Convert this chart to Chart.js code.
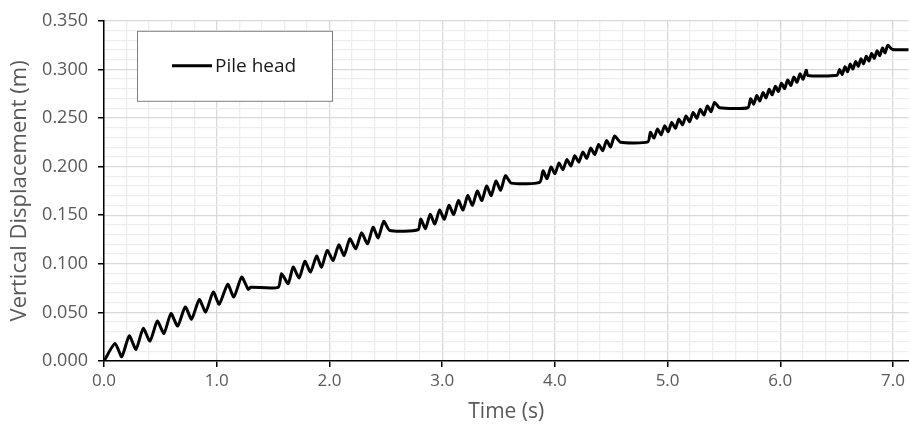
<!DOCTYPE html>
<html>
<head>
<meta charset="utf-8">
<script src="https://cdn.jsdelivr.net/npm/chart.js@4.4.1/dist/chart.umd.min.js"></script>
<style>
  html, body { margin: 0; padding: 0; background: #fff; overflow: hidden; }
  #wrap { width: 909px; height: 429px; position: relative; }
</style>
</head>
<body>
<div id="wrap"><canvas id="chart"></canvas></div>
<script>
// pile head settlement, one array pair per loading stage (time in s, displacement in m)
const stage1Time = [0, 0.098, 0.157, 0.224, 0.284, 0.348, 0.408, 0.473, 0.532, 0.594, 0.653, 0.721, 0.777, 0.845, 0.902, 0.969, 1.022, 1.097, 1.152, 1.221, 1.279, 1.300, 1.545]
const stage1Disp = [0, 0.0181, 0.0044, 0.0259, 0.0120, 0.0335, 0.0205, 0.0410, 0.0284, 0.0489, 0.0359, 0.0556, 0.0430, 0.0632, 0.0505, 0.0710, 0.0584, 0.0789, 0.0659, 0.0864, 0.0738, 0.0758, 0.0758]

const stage2Time = [1.575, 1.634, 1.678, 1.731, 1.782, 1.832, 1.886, 1.930, 1.980, 2.033, 2.083, 2.130, 2.181, 2.234, 2.285, 2.338, 2.387, 2.432, 2.482, 2.535, 2.786]
const stage2Disp = [0.0898, 0.0796, 0.0966, 0.0854, 0.1025, 0.0915, 0.1079, 0.0966, 0.1137, 0.1035, 0.1196, 0.1086, 0.1257, 0.1155, 0.1319, 0.1206, 0.1376, 0.1267, 0.1437, 0.1342, 0.1350]

const stage3Time = [2.810, 2.852, 2.894, 2.935, 2.977, 3.019, 3.060, 3.102, 3.144, 3.185, 3.227, 3.269, 3.311, 3.352, 3.394, 3.435, 3.477, 3.519, 3.561, 3.614, 3.865]
const stage3Disp = [0.1460, 0.1362, 0.1508, 0.1410, 0.1553, 0.1458, 0.1602, 0.1507, 0.1650, 0.1553, 0.1701, 0.1602, 0.1748, 0.1651, 0.1800, 0.1702, 0.1851, 0.1758, 0.1906, 0.1830, 0.1837]

const stage4Time = [3.895, 3.930, 3.966, 4.001, 4.036, 4.071, 4.107, 4.142, 4.177, 4.212, 4.248, 4.283, 4.318, 4.353, 4.389, 4.424, 4.459, 4.494, 4.530, 4.583, 4.825]
const stage4Disp = [0.1957, 0.1875, 0.1995, 0.1928, 0.2036, 0.1968, 0.2073, 0.2007, 0.2112, 0.2046, 0.2150, 0.2085, 0.2191, 0.2124, 0.2228, 0.2163, 0.2268, 0.2202, 0.2316, 0.2250, 0.2255]

const stage5Time = [4.847, 4.879, 4.910, 4.942, 4.974, 5.005, 5.037, 5.069, 5.100, 5.132, 5.164, 5.195, 5.227, 5.259, 5.290, 5.322, 5.354, 5.385, 5.417, 5.461, 5.712]
const stage5Disp = [0.2353, 0.2293, 0.2386, 0.2327, 0.2420, 0.2360, 0.2455, 0.2394, 0.2488, 0.2429, 0.2522, 0.2462, 0.2557, 0.2497, 0.2590, 0.2530, 0.2624, 0.2565, 0.2661, 0.2606, 0.2606]

const stage6Time = [5.736, 5.764, 5.791, 5.819, 5.846, 5.873, 5.901, 5.928, 5.956, 5.983, 6.010, 6.038, 6.065, 6.093, 6.120, 6.148, 6.175, 6.202, 6.230, 6.244, 6.503]
const stage6Disp = [0.2698, 0.2643, 0.2730, 0.2676, 0.2762, 0.2707, 0.2795, 0.2739, 0.2826, 0.2772, 0.2858, 0.2803, 0.2891, 0.2835, 0.2922, 0.2868, 0.2954, 0.2899, 0.2992, 0.2937, 0.2940]

const stage7Time = [6.525, 6.549, 6.573, 6.597, 6.620, 6.644, 6.668, 6.692, 6.715, 6.739, 6.763, 6.787, 6.810, 6.834, 6.858, 6.882, 6.906, 6.929, 6.953, 6.997, 7.200]
const stage7Disp = [0.2999, 0.2949, 0.3026, 0.2977, 0.3054, 0.3004, 0.3081, 0.3032, 0.3109, 0.3059, 0.3136, 0.3087, 0.3164, 0.3114, 0.3191, 0.3142, 0.3219, 0.3170, 0.3248, 0.3204, 0.3204]

const seriesName = 'Pile head'
const xTitle = 'Time (s)'
const yTitle = 'Vertical Displacement (m)'

const FONT = "'Open Sans', 'Noto Sans', sans-serif"
const GRID_MAJOR = '#d9d9d9'
const GRID_MINOR = '#eeeeee'
const X_MAX = 7.137

const stages = [
    [stage1Time, stage1Disp], [stage2Time, stage2Disp], [stage3Time, stage3Disp],
    [stage4Time, stage4Disp], [stage5Time, stage5Disp], [stage6Time, stage6Disp],
    [stage7Time, stage7Disp]
]
const points = []
stages.forEach(([t, d]) => t.forEach((v, i) => points.push({ x: v, y: d[i] })))

// framed legend in the upper left corner of the plot
const boxLegend = {
    id: 'boxLegend',
    afterDatasetsDraw(chart) {
        const { ctx, chartArea } = chart
        const ds = chart.data.datasets[0]
        const x = chartArea.left + 33, y = chartArea.top + 10
        ctx.save()
        ctx.fillStyle = '#fff'
        ctx.fillRect(x, y, 195, 70)
        ctx.strokeStyle = '#7f7f7f'
        ctx.lineWidth = 1
        ctx.strokeRect(x + 0.5, y + 0.5, 195, 70)
        ctx.strokeStyle = ds.borderColor
        ctx.lineWidth = ds.borderWidth
        ctx.beginPath()
        ctx.moveTo(x + 35, y + 35)
        ctx.lineTo(x + 75, y + 35)
        ctx.stroke()
        ctx.fillStyle = '#1a1a1a'
        ctx.font = '19px ' + FONT
        ctx.textBaseline = 'middle'
        ctx.fillText(ds.label, x + 78, y + 36)
        ctx.restore()
    }
}

new Chart(document.getElementById('chart'), {
    type: 'line',
    data: {
        datasets: [{
            label: seriesName,
            data: points,
            borderColor: '#000',
            borderWidth: 3,
            borderJoinStyle: 'round',
            pointRadius: 0,
            tension: 0.2,
            xAxisID: 'x',
            yAxisID: 'y'
        }]
    },
    options: {
        responsive: true,
        maintainAspectRatio: false,
        animation: false,
        devicePixelRatio: 1,
        layout: { padding: { top: 19, left: 0, right: 0, bottom: 0 } },
        plugins: {
            legend: { display: false },
            tooltip: { enabled: false }
        },
        scales: {
            x: {
                type: 'linear',
                position: 'bottom',
                min: 0,
                max: X_MAX,
                ticks: {
                    stepSize: 1,
                    includeBounds: false,
                    color: '#595959',
                    font: { family: FONT, size: 17 },
                    padding: 4,
                    callback: v => v.toFixed(1)
                },
                grid: { drawOnChartArea: false, drawTicks: true, tickLength: 6, color: '#000', lineWidth: 1.5 },
                border: { color: '#000', width: 1.5 },
                title: {
                    display: true,
                    text: xTitle,
                    color: '#595959',
                    font: { family: FONT, size: 21 },
                    padding: { top: 0, bottom: 4 }
                },
                afterFit: s => { s.height = 68 }
            },
            y: {
                type: 'linear',
                position: 'left',
                min: 0,
                max: 0.35,
                ticks: {
                    stepSize: 0.05,
                    color: '#595959',
                    font: { family: FONT, size: 18 },
                    padding: 10,
                    callback: v => v.toFixed(3)
                },
                grid: { drawOnChartArea: false, drawTicks: true, tickLength: 6, color: '#000', lineWidth: 1.5 },
                border: { color: '#000', width: 1.5 },
                title: {
                    display: true,
                    text: yTitle,
                    color: '#595959',
                    font: { family: FONT, size: 22 },
                    padding: { top: 7, bottom: 0 }
                },
                afterFit: s => { s.width = 104 }
            },
            // minor + major gridlines
            xGrid: {
                type: 'linear',
                position: 'bottom',
                min: 0,
                max: X_MAX,
                z: -1,
                ticks: { display: false, stepSize: 0.2, includeBounds: false },
                grid: {
                    drawTicks: false,
                    lineWidth: 1.3,
                    color: c => (c.tick && Math.round(c.tick.value * 5) % 5 === 0) ? GRID_MAJOR : GRID_MINOR
                },
                border: { display: false },
                afterFit: s => { s.height = 0 }
            },
            yGrid: {
                type: 'linear',
                position: 'left',
                min: 0,
                max: 0.35,
                z: -1,
                ticks: { display: false, stepSize: 0.01 },
                grid: {
                    drawTicks: false,
                    lineWidth: 1.3,
                    color: c => (c.tick && Math.round(c.tick.value * 100) % 5 === 0) ? GRID_MAJOR : GRID_MINOR
                },
                border: { display: false },
                afterFit: s => { s.width = 0 }
            }
        }
    },
    plugins: [boxLegend]
})
</script>
</body>
</html>
